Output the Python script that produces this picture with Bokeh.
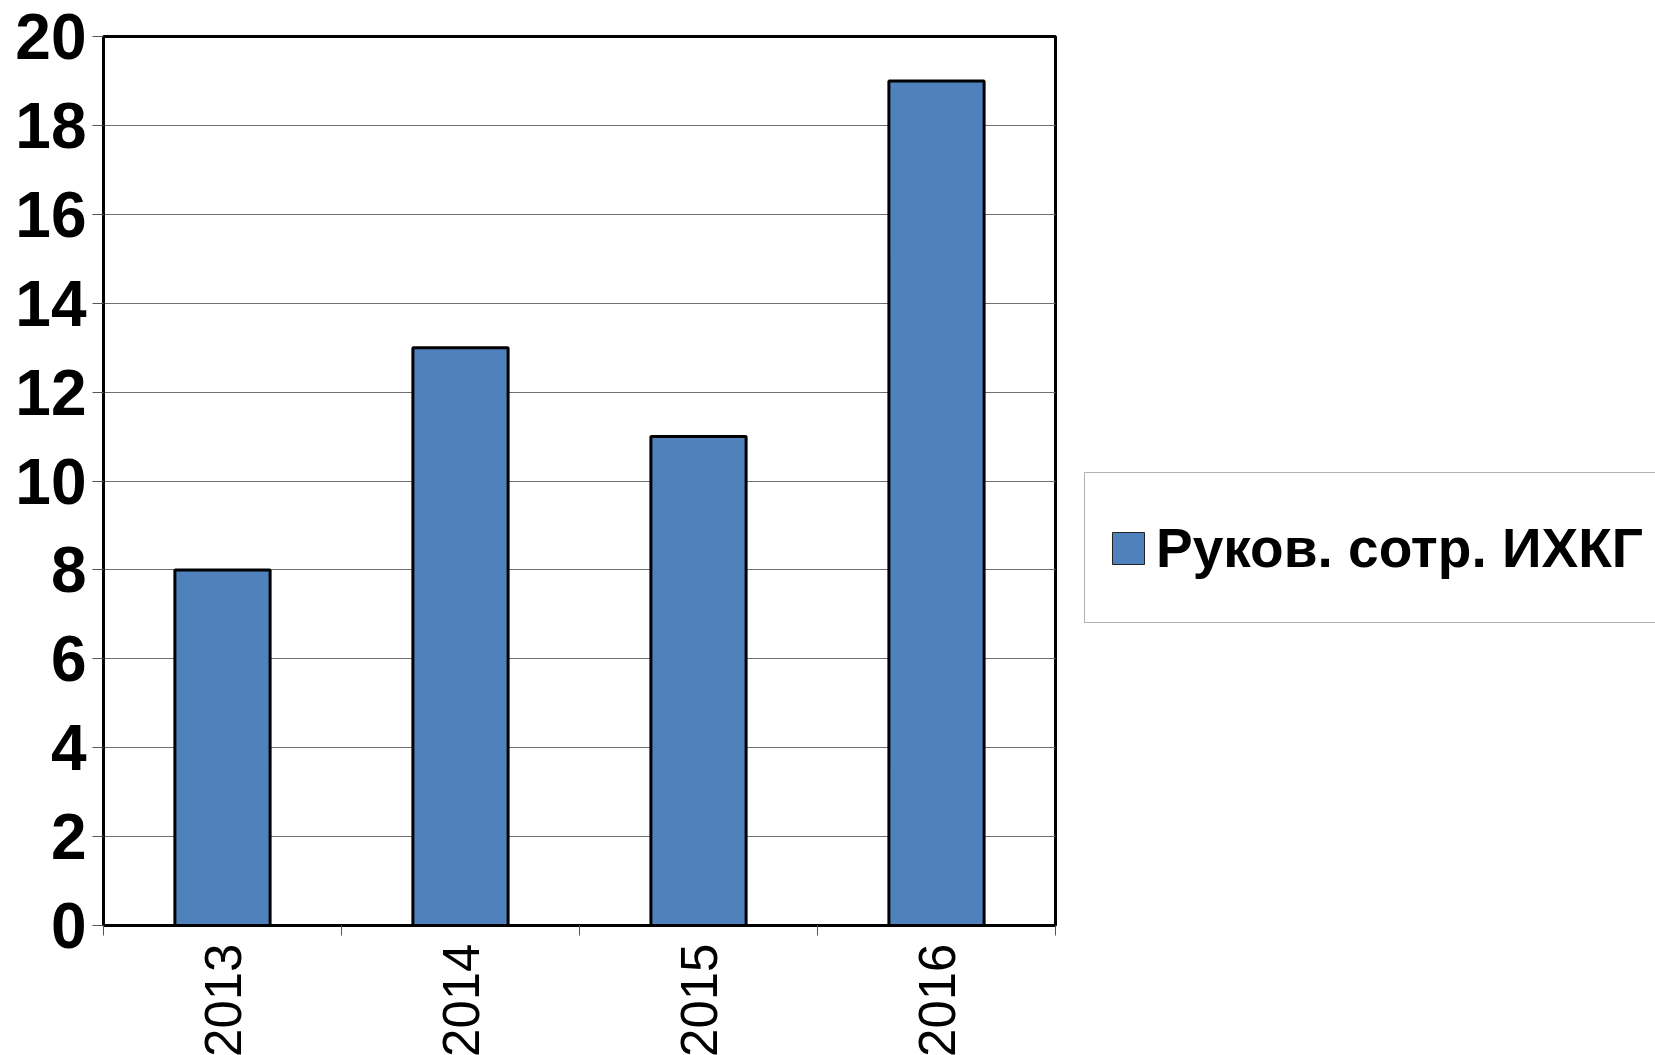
import math
from bokeh.plotting import figure
from bokeh.layouts import row
from bokeh.models import (ColumnDataSource, FixedTicker, Legend, LegendItem, Range1d)
from bokeh.embed import file_html
from bokeh.resources import INLINE

# ---- data ----
years = ["2013", "2014", "2015", "2016"]
values = [8, 13, 11, 19]
series_name = "Руков. сотр. ИХКГ"
y_ticks = [0, 2, 4, 6, 8, 10, 12, 14, 16, 18, 20]

BAR_COLOR = "#4F81BD"

xpos = [i + 0.5 for i in range(len(years))]
src = ColumnDataSource(dict(x=xpos, top=values, year=years))

p = figure(frame_width=952, frame_height=889,
           min_border_left=103, min_border_right=2,
           min_border_top=36, min_border_bottom=130,
           output_backend="svg", toolbar_location=None,
           x_range=Range1d(0, len(years)), y_range=Range1d(0, 20))

r = p.vbar(x="x", top="top", bottom=0, width=0.4, source=src,
           fill_color=BAR_COLOR, line_color="black", line_width=3)

# frame
p.outline_line_color = "black"
p.outline_line_width = 3
p.background_fill_color = "white"
p.border_fill_color = "white"

# grids
p.xgrid.grid_line_color = None
p.ygrid.ticker = FixedTicker(ticks=y_ticks)
p.ygrid.grid_line_color = "#6e6e6e"
p.ygrid.grid_line_width = 1

# y axis
p.yaxis.ticker = FixedTicker(ticks=y_ticks)
p.yaxis.axis_line_color = "black"
p.yaxis.axis_line_width = 3
p.yaxis.major_tick_out = 11
p.yaxis.major_tick_in = 0
p.yaxis.major_tick_line_color = "#555555"
p.yaxis.major_tick_line_width = 1
p.yaxis.minor_tick_line_color = None
p.yaxis.major_label_text_font = "Liberation Sans"
p.yaxis.major_label_text_font_style = "bold"
p.yaxis.major_label_text_font_size = "64px"
p.yaxis.major_label_text_color = "black"
p.yaxis.major_label_standoff = 6

# x axis: labels at category centres, tick marks at boundaries
p.xaxis.ticker = FixedTicker(ticks=xpos, minor_ticks=list(range(len(years) + 1)))
p.xaxis.major_label_overrides = {x: y for x, y in zip(xpos, years)}
p.xaxis.major_tick_line_color = None
p.xaxis.minor_tick_out = 10
p.xaxis.minor_tick_in = 0
p.xaxis.minor_tick_line_color = "#555555"
p.xaxis.minor_tick_line_width = 1
p.xaxis.axis_line_color = "black"
p.xaxis.axis_line_width = 3
p.xaxis.major_label_orientation = math.pi / 2
p.xaxis.major_label_text_font = "Liberation Sans"
p.xaxis.major_label_text_font_size = "51px"
p.xaxis.major_label_text_color = "black"
p.xaxis.major_label_standoff = 8

# legend panel (separate canvas to the right of the chart)
lp = figure(width=598, height=1055, min_border=0,
            output_backend="svg", toolbar_location=None,
            x_range=Range1d(0, 1), y_range=Range1d(0, 1))
lp.axis.visible = False
lp.grid.visible = False
lp.outline_line_color = None
lp.background_fill_color = "white"
lp.border_fill_color = "white"
# same series, hidden here: it only supplies the legend swatch
proxy = lp.vbar(x="x", top="top", bottom=0, width=0.4, source=src,
                fill_color=BAR_COLOR, line_color="#222222", line_width=1,
                visible=False)

legend = Legend(items=[LegendItem(label=series_name, renderers=[proxy])],
                location=(27, 298), orientation="vertical")
legend.label_text_font = "Liberation Sans"
legend.label_text_font_style = "bold"
legend.label_text_font_size = "55px"
legend.label_text_color = "black"
legend.label_standoff = 8
legend.glyph_width = 40
legend.glyph_height = 40
legend.label_height = 103
legend.padding = 23
legend.margin = 0
legend.spacing = 0
legend.border_line_color = "#666666"
legend.border_line_width = 1.5
legend.background_fill_color = "white"
legend.background_fill_alpha = 1
lp.add_layout(legend, "center")

layout = row(p, lp)
open("out.html", "w").write(file_html(layout, INLINE))
